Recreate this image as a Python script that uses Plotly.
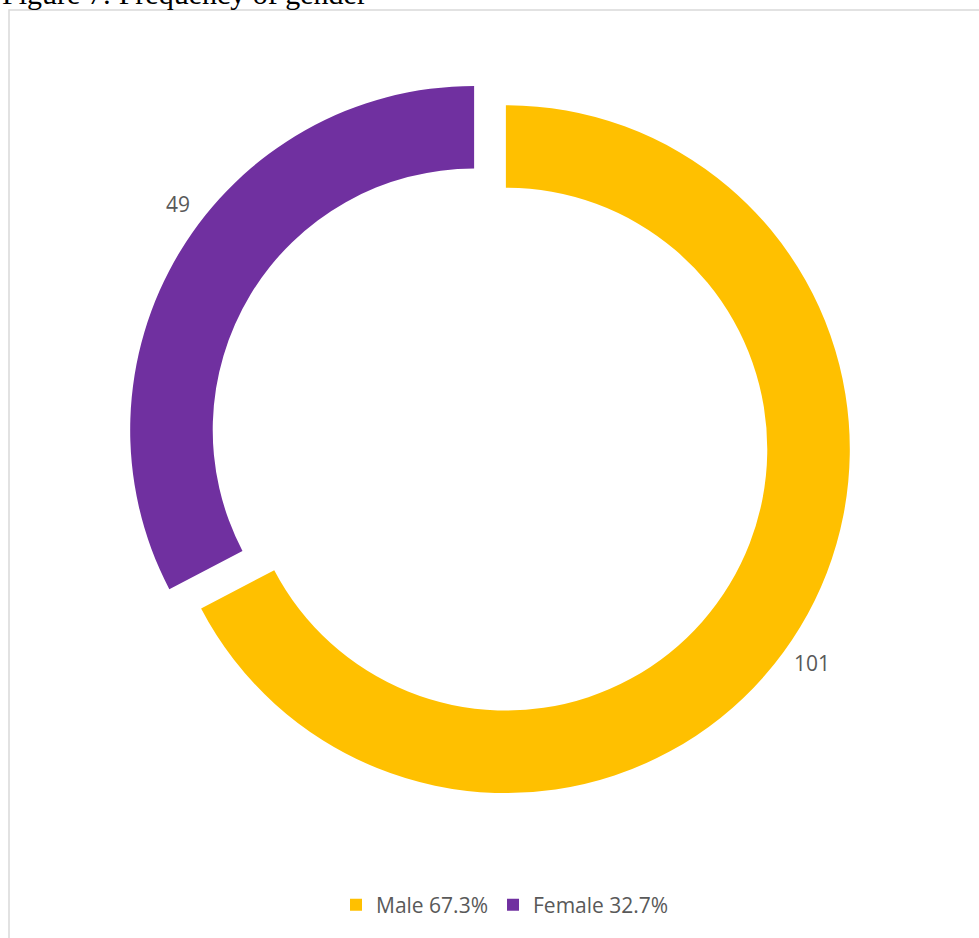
import math
import plotly.graph_objects as go

categories = ["Male", "Female"]
counts = [101, 49]
colors = ["#FFC000", "#7030A0"]
title_text = "Figure 7: Frequency of gender"

total = sum(counts)
legend_labels = [f"{c} {v / total * 100:.1f}%" for c, v in zip(categories, counts)]

W, H = 979, 938

def px_x(x):
    return x / W

def px_y(y):
    return 1 - y / H

# pie geometry (pixels)
cx, cy = 490, 439.5
pull = 0.054
box = 725
radius = box / (2 + 2 * pull)

fig = go.Figure()
fig.add_trace(go.Pie(
    labels=legend_labels,
    values=counts,
    sort=False,
    direction="clockwise",
    rotation=0,
    hole=0.76,
    pull=[pull] * len(counts),
    marker=dict(colors=colors, line=dict(width=0)),
    textinfo="none",
    hoverinfo="label+value",
    domain=dict(x=[px_x(cx - box / 2), px_x(cx + box / 2)],
                y=[px_y(cy + box / 2), px_y(cy - box / 2)]),
))

# data labels placed outside each slice (Excel-style), derived from the values
annotations = []
cum = 0
for v in counts:
    mid = (cum + v / 2) / total * 2 * math.pi
    cum += v
    sx = cx + pull * radius * math.sin(mid)
    sy = cy - pull * radius * math.cos(mid)
    ang = mid + math.radians(5)
    lx = sx + (radius + 29) * math.sin(ang)
    ly = sy - (radius + 29) * math.cos(ang)
    annotations.append(dict(
        text=str(v), xref="paper", yref="paper",
        x=px_x(lx), y=px_y(ly), xanchor="center", yanchor="middle",
        xshift=5, yshift=6,
        showarrow=False,
        font=dict(family="Open Sans, Liberation Sans, sans-serif", size=21, color="#595959"),
    ))

annotations.append(dict(
    text=title_text, xref="paper", yref="paper",
    x=0, xanchor="left",
    y=px_y(-6), yanchor="middle",
    showarrow=False,
    font=dict(family="Liberation Serif, Times New Roman, serif", size=30, color="black"),
))

fig.update_layout(
    width=W, height=H,
    margin=dict(l=0, r=0, t=0, b=0),
    paper_bgcolor="white",
    plot_bgcolor="white",
    showlegend=True,
    legend=dict(
        orientation="h",
        x=px_x(505), xanchor="center",
        y=px_y(905), yanchor="middle",
        font=dict(family="Open Sans, Liberation Sans, sans-serif", size=21, color="#595959"),
        itemclick=False,
    ),
    shapes=[dict(
        type="rect", xref="paper", yref="paper",
        x0=px_x(9), x1=px_x(1000), y0=px_y(960), y1=px_y(10),
        line=dict(color="#d9d9d9", width=1.5),
        fillcolor="rgba(0,0,0,0)",
        layer="below",
    )],
    annotations=annotations,
)

fig.write_html("out.html")
